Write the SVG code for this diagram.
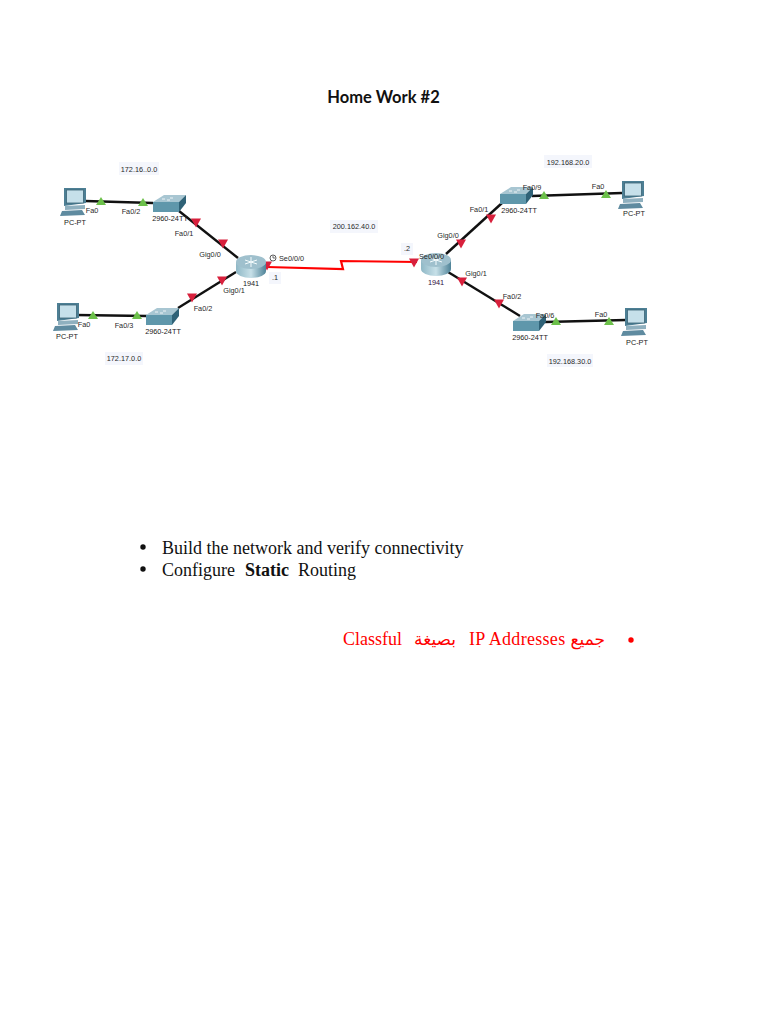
<svg xmlns="http://www.w3.org/2000/svg" width="768" height="1024" viewBox="0 0 768 1024">
<style>
.l{font-family:"Liberation Sans",Arial,sans-serif;font-size:7.300px;fill:#2a2a2a}
.c{text-anchor:middle}
.n{font-family:"Liberation Sans",Arial,sans-serif;font-size:7.300px;fill:#222;text-anchor:middle}
.b{font-family:"Liberation Serif","Times New Roman",serif;font-size:18px;fill:#111}
.r{font-family:"Liberation Serif","Times New Roman",serif;font-size:18px;fill:#f00}
.ar{font-family:"DejaVu Sans",sans-serif;font-size:17px;fill:#f00}
.eth{stroke:#111;stroke-width:2.400;fill:none}
.ser{stroke:#f00;stroke-width:2.200;fill:none}
.bg{fill:#f4f6fc}
</style>
<defs>
<polygon id="g" points="0,-5 5,3 -5,3" fill="#6cc04a"/>
<polygon id="rd" points="-5,-3.500 5,-3.500 0,5.500" fill="#d8203c"/>
<g id="pc">
<polygon points="2,0 24,0 24,15 2,18" fill="#4d7f94"/>
<rect x="4.500" y="2" width="17" height="13" fill="#c6e0ea" stroke="#3b6577" stroke-width="0.800"/>
<polygon points="3,18 23,17 23,21 3,22" fill="#8fb0bf"/>
<polygon points="0,23 20,22 23,27 -2,28" fill="#5f8ba0"/>
</g>
<g id="sw">
<polygon points="0,7 11,0 33,0 26,7" fill="#a8c6d2"/>
<rect x="0" y="7" width="26" height="10" fill="#5f97ab"/>
<polygon points="26,7 33,0 33,8 26,17" fill="#2f6277"/>
<path d="M9,4h3M17,3h3M14,5h3" stroke="#fff" stroke-width="0.800"/>
</g>
<linearGradient id="rg" x1="0" x2="1" y1="0" y2="0"><stop offset="0" stop-color="#8fb8c6"/><stop offset=".5" stop-color="#c7e0e8"/><stop offset="1" stop-color="#4f8398"/></linearGradient>
<g id="rt">
<path d="M0,8V17A15,7 0 0 0 30,17V8Z" fill="url(#rg)"/>
<ellipse cx="15" cy="8" rx="15" ry="7" fill="#9fc0cd"/>
<path d="M9,6l12,4M21,6l-12,4M15,3v10" stroke="#f4fbfd" stroke-width="1"/>
</g>
</defs>
<text x="383.500" y="103" text-anchor="middle" style="font-family:'Lato','Open Sans',sans-serif;font-weight:700;font-size:16.500px;fill:#111">Home Work #2</text>
<g id="connectors">
<path class="eth" d="M85,201L153,203"/>
<path class="eth" d="M179,211L238,258"/>
<path class="eth" d="M76,315L147,316"/>
<path class="eth" d="M178,308L236,272"/>
<path class="eth" d="M446,254L502,203"/>
<path class="eth" d="M532,196L622,193"/>
<path class="eth" d="M448,272L520,316"/>
<path class="eth" d="M545,322L626,320"/>
<path class="ser" d="M267,267L343,269L341,261L417,262"/>
<use href="#g" x="101" y="202"/><use href="#g" x="143" y="203"/><use href="#g" x="93" y="316"/><use href="#g" x="137" y="316"/>
<use href="#g" x="544" y="196"/><use href="#g" x="606" y="195"/><use href="#g" x="556" y="322"/><use href="#g" x="609" y="322"/>
<use href="#rd" x="196" y="222"/><use href="#rd" x="223" y="243"/><use href="#rd" x="222" y="280"/><use href="#rd" x="192" y="297"/><use href="#rd" x="267" y="265"/>
<use href="#rd" x="414" y="262"/><use href="#rd" x="461" y="243"/><use href="#rd" x="491" y="218"/><use href="#rd" x="462" y="281"/><use href="#rd" x="499" y="303"/>
</g>
<g id="pc1"><use href="#pc" x="62" y="188"/><text class="n" x="75" y="225">PC-PT</text></g>
<g id="pc2"><use href="#pc" x="55" y="303"/><text class="n" x="67" y="339">PC-PT</text></g>
<g id="pc3"><use href="#pc" x="620" y="181"/><text class="n" x="634" y="216">PC-PT</text></g>
<g id="pc4"><use href="#pc" x="623" y="308"/><text class="n" x="637" y="345">PC-PT</text></g>
<g id="sw1"><use href="#sw" x="153" y="195"/><text class="n" x="170" y="221">2960-24TT</text></g>
<g id="sw2"><use href="#sw" x="146" y="308"/><text class="n" x="163" y="334">2960-24TT</text></g>
<g id="sw3"><use href="#sw" x="500" y="187"/><text class="n" x="519" y="213">2960-24TT</text></g>
<g id="sw4"><use href="#sw" x="513" y="314"/><text class="n" x="530" y="340">2960-24TT</text></g>
<g id="r1"><use href="#rt" x="236" y="254"/><text class="n" x="251" y="286">1941</text></g>
<g id="r2"><use href="#rt" x="421" y="252"/><text class="n" x="436" y="285" style="fill:#301040">1941</text></g>
<g id="labels">
<text class="l c" x="92" y="213">Fa0</text><text class="l c" x="131" y="214">Fa0/2</text>
<text class="l c" x="184" y="236">Fa0/1</text><text class="l c" x="210" y="257">Gig0/0</text>
<text class="l c" x="234" y="293">Gig0/1</text><text class="l c" x="203" y="311">Fa0/2</text>
<text class="l c" x="84" y="327">Fa0</text><text class="l c" x="124" y="328">Fa0/3</text>
<circle cx="273" cy="258" r="3" fill="none" stroke="#333" stroke-width="0.800"/><path d="M273,256v2h2" fill="none" stroke="#333" stroke-width="0.700"/>
<text class="l" x="279" y="261">Se0/0/0</text>
<rect class="bg" x="269" y="272" width="12" height="12"/><text class="l c" x="275" y="280">.1</text>
<rect class="bg" x="401" y="243" width="12" height="12"/><text class="l c" x="407" y="251">.2</text>
<text class="l" x="419" y="259">Se0/0/0</text>
<text class="l c" x="448" y="238">Gig0/0</text><text class="l c" x="476" y="276">Gig0/1</text>
<text class="l c" x="479" y="212">Fa0/1</text><text class="l c" x="532" y="190">Fa0/9</text>
<text class="l c" x="598" y="189">Fa0</text><text class="l c" x="512" y="299">Fa0/2</text>
<text class="l c" x="545" y="318">Fa0/6</text><text class="l c" x="601" y="317">Fa0</text>
<rect class="bg" x="119" y="162" width="40" height="13"/><text class="l c" x="139" y="172">172.16..0.0</text>
<rect class="bg" x="105" y="352" width="38" height="13"/><text class="l c" x="124" y="361">172.17.0.0</text>
<rect class="bg" x="330" y="220" width="48" height="13"/><text class="l c" x="354" y="229">200.162.40.0</text>
<rect class="bg" x="544" y="155" width="48" height="13"/><text class="l c" x="568" y="165">192.168.20.0</text>
<rect class="bg" x="547" y="354" width="46" height="13"/><text class="l c" x="570" y="364">192.168.30.0</text>
</g>
<g id="text">
<circle cx="143" cy="547" r="2.700" fill="#111"/>
<text class="b" x="162" y="554">Build the network and verify connectivity</text>
<circle cx="143" cy="569" r="2.700" fill="#111"/>
<text class="b" x="162" y="576">Configure</text>
<text class="b" x="245" y="576" font-weight="700">Static</text>
<text class="b" x="298" y="576">Routing</text>
<text class="r" x="343" y="645">Classful</text>
<text class="ar" x="456" y="645" direction="rtl" text-anchor="start">بصيغة</text>
<text class="r" x="469" y="645" style="letter-spacing:.3px">IP Addresses</text>
<text class="ar" x="605" y="645" direction="rtl" text-anchor="start">جميع</text>
<circle cx="631" cy="640" r="2.700" fill="#f00"/>
</g>
</svg>
